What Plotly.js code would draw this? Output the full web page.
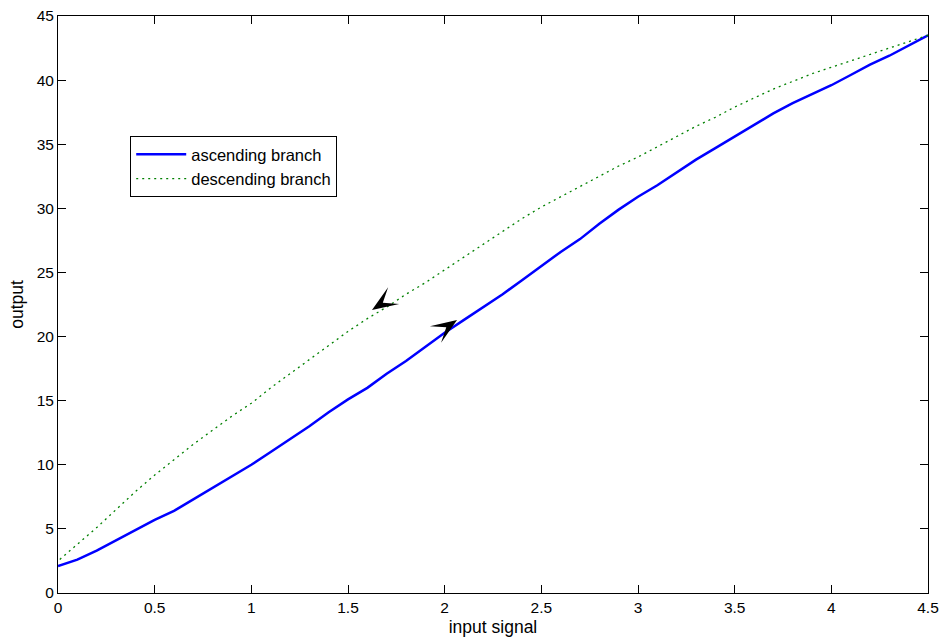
<!DOCTYPE html>
<html>
<head>
<meta charset="utf-8">
<script src="https://cdn.plot.ly/plotly-3.0.1.min.js"></script>
<style>html,body{margin:0;padding:0;background:#fff;}#chart{width:945px;height:642px;}</style>
</head>
<body>
<div id="chart"></div>
<script>
var xInput = [0.0,0.1,0.2,0.3,0.4,0.5,0.6,0.7,0.8,0.9,1.0,1.1,1.2,1.3,1.4,1.5,1.6,1.7,1.8,1.9,2.0,2.1,2.2,2.3,2.4,2.5,2.6,2.7,2.8,2.9,3.0,3.1,3.2,3.3,3.4,3.5,3.6,3.7,3.8,3.9,4.0,4.1,4.2,4.3,4.4,4.5];
var ascending = [2.1,2.6,3.3,4.1,4.9,5.7,6.4,7.3,8.2,9.1,10.0,11.0,12.0,13.0,14.1,15.1,16.0,17.1,18.1,19.2,20.3,21.3,22.3,23.3,24.4,25.5,26.6,27.6,28.8,29.9,30.9,31.8,32.8,33.8,34.7,35.6,36.5,37.4,38.2,38.9,39.6,40.4,41.2,41.9,42.7,43.5];
var descending = [2.5,3.8,5.1,6.5,7.9,9.2,10.4,11.6,12.7,13.8,14.8,16.0,17.1,18.2,19.3,20.4,21.4,22.3,23.3,24.2,25.2,26.2,27.2,28.2,29.2,30.1,30.9,31.7,32.5,33.3,34.0,34.8,35.6,36.4,37.1,37.9,38.6,39.3,39.9,40.5,41.0,41.5,42.0,42.5,43.0,43.5];
var xTicks = [0,0.5,1,1.5,2,2.5,3,3.5,4,4.5];
var xTickLabels = ['0','0.5','1','1.5','2','2.5','3','3.5','4','4.5'];
var yTicks = [0,5,10,15,20,25,30,35,40,45];
// arrow tips (data coords) and pointing direction (degrees, screen, counter-clockwise from +x)
var arrowX = [1.624, 2.064];
var arrowY = [22.07, 21.3];
var arrowDir = [213.5, 34];

var font = 'Liberation Sans, Arial, Helvetica, sans-serif';

var traces = [
  {x: xInput, y: ascending, mode: 'lines', name: 'ascending branch',
   line: {color: '#0000ff', width: 2.5}},
  {x: xInput.slice().reverse(), y: descending.slice().reverse(), mode: 'lines', name: 'descending branch',
   line: {color: '#008000', width: 1.3, dash: '2px,4px'}}
];

function arrowShape(x, y, deg) {
  var a = deg * Math.PI / 180, L = 26, W = 10, N = 13;
  var px = Math.cos(a), py = Math.sin(a), nx = -py, ny = px;
  var c1 = [-L * px + W * nx, -L * py + W * ny];
  var c2 = [-L * px - W * nx, -L * py - W * ny];
  var nt = [-N * px, -N * py];
  var f = function (p) { return p[0].toFixed(2) + ',' + p[1].toFixed(2); };
  return {type: 'path', xref: 'x', yref: 'y', xsizemode: 'pixel', ysizemode: 'pixel',
          xanchor: x, yanchor: y,
          path: 'M0,0 L' + f(c1) + ' L' + f(nt) + ' L' + f(c2) + ' Z',
          fillcolor: '#000', line: {width: 0}, layer: 'above'};
}
var shapes = arrowX.map(function (v, i) { return arrowShape(v, arrowY[i], arrowDir[i]); });

var axisCommon = {
  showgrid: false, zeroline: false, showline: true, linecolor: '#000', linewidth: 1,
  mirror: 'ticks', ticks: 'inside', ticklen: 8, tickcolor: '#000', tickwidth: 1,
  tickfont: {family: font, size: 15.5, color: '#000'}
};

var layout = {
  width: 945, height: 642,
  margin: {l: 58, r: 17, t: 16, b: 49},
  paper_bgcolor: '#fff', plot_bgcolor: '#fff',
  showlegend: true,
  legend: {x: 0.083, y: 0.792, xanchor: 'left', yanchor: 'top',
           bgcolor: '#fff', bordercolor: '#000', borderwidth: 1, itemwidth: 50,
           font: {family: font, size: 16.5, color: '#000'}, tracegroupgap: 0},
  xaxis: Object.assign({}, axisCommon, {
    range: [0, 4.5], tickvals: xTicks, ticktext: xTickLabels,
    title: {text: 'input signal', font: {family: font, size: 17.5, color: '#000'}, standoff: 6}
  }),
  yaxis: Object.assign({}, axisCommon, {
    range: [0, 45], tickvals: yTicks,
    title: {text: 'output', font: {family: font, size: 17.5, color: '#000'}, standoff: 8}
  }),
  shapes: shapes
};

Plotly.newPlot('chart', traces, layout, {displayModeBar: false, staticPlot: true});
</script>
</body>
</html>
